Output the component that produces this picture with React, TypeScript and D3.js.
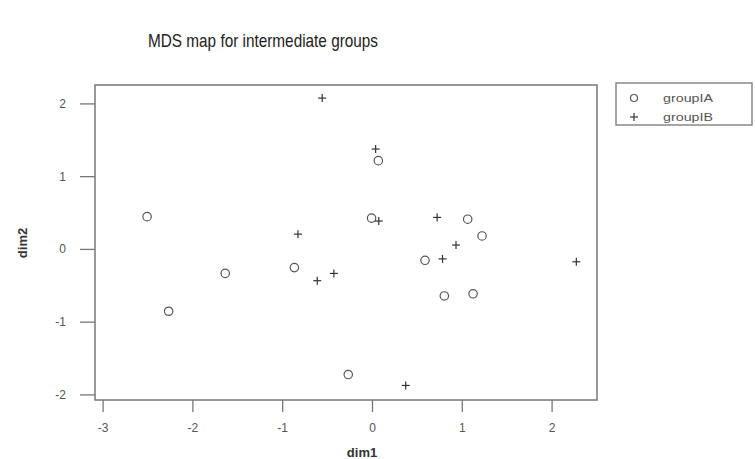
import React from "react";
import * as d3 from "d3";

const groupA_x = [-2.51, -2.27, -1.64, -0.87, -0.27, 0.065, -0.01, 1.06, 1.22, 0.585, 0.8, 1.12];
const groupA_y = [0.45, -0.85, -0.33, -0.25, -1.72, 1.22, 0.43, 0.415, 0.185, -0.15, -0.64, -0.61];
const groupB_x = [-0.56, -0.83, -0.615, -0.43, 0.035, 0.07, 0.72, 0.93, 0.78, 2.27, 0.37];
const groupB_y = [2.08, 0.21, -0.43, -0.33, 1.38, 0.39, 0.44, 0.06, -0.13, -0.17, -1.87];
const xTicks = [-3, -2, -1, 0, 1, 2];
const yTicks = [-2, -1, 0, 1, 2];
const legendLabels = ["groupIA", "groupIB"];

const W = 755, H = 459;
const L = 95, R = 597, T = 85, B = 400;

export default function App() {
  const x = d3.scaleLinear().domain([-3.09, 2.5]).range([L, R]);
  const y = d3.scaleLinear().domain([-2.07, 2.26]).range([B, T]);
  const ink = "#555";
  const font = "Liberation Sans, Arial, sans-serif";
  const plus = (cx: number, cy: number, k: string) => (
    <g key={k} stroke="#333" strokeWidth={1.2}>
      <line x1={cx - 4} x2={cx + 4} y1={cy} y2={cy} />
      <line x1={cx} x2={cx} y1={cy - 4} y2={cy + 4} />
    </g>
  );
  return (
    <svg width={W} height={H} style={{ position: "absolute", left: 0, top: 0, background: "#fff" }} fontFamily={font}>
      <rect x={0} y={0} width={W} height={H} fill="#fff" />
      <text x={148} y={47} fontSize={19} fill="#222" textLength={230} lengthAdjust="spacingAndGlyphs">MDS map for intermediate groups</text>
      <rect x={L} y={T} width={R - L} height={B - T} fill="none" stroke="#777" strokeWidth={1.5} />
      {xTicks.map((t) => (
        <g key={"x" + t}>
          <line x1={x(t)} x2={x(t)} y1={B} y2={B + 12} stroke="#777" strokeWidth={1.3} />
          <text x={x(t)} y={432} fontSize={12} fill={ink} textAnchor="middle">{t}</text>
        </g>
      ))}
      {yTicks.map((t) => (
        <g key={"y" + t}>
          <line x1={L - 15} x2={L} y1={y(t)} y2={y(t)} stroke="#777" strokeWidth={1.3} />
          <text x={66} y={y(t) + 4} fontSize={12} fill={ink} textAnchor="end">{t}</text>
        </g>
      ))}
      <text x={362} y={457} fontSize={13} fontWeight="bold" fill="#333" textAnchor="middle">dim1</text>
      <text transform="translate(27,243) rotate(-90)" fontSize={13} fontWeight="bold" fill="#333" textAnchor="middle">dim2</text>
      {groupA_x.map((v, i) => (
        <circle key={"a" + i} cx={x(v)} cy={y(groupA_y[i])} r={4.2} fill="none" stroke={ink} strokeWidth={1.2} />
      ))}
      {groupB_x.map((v, i) => plus(x(v), y(groupB_y[i]), "b" + i))}
      <rect x={616} y={83} width={136} height={42} fill="none" stroke="#777" strokeWidth={1.3} />
      <circle cx={634} cy={98} r={3.5} fill="none" stroke={ink} strokeWidth={1.2} />
      {plus(634, 117, "lg")}
      <text x={663} y={102} fontSize={11} fill={ink} textLength={50} lengthAdjust="spacingAndGlyphs">{legendLabels[0]}</text>
      <text x={663} y={121} fontSize={11} fill={ink} textLength={50} lengthAdjust="spacingAndGlyphs">{legendLabels[1]}</text>
    </svg>
  );
}
